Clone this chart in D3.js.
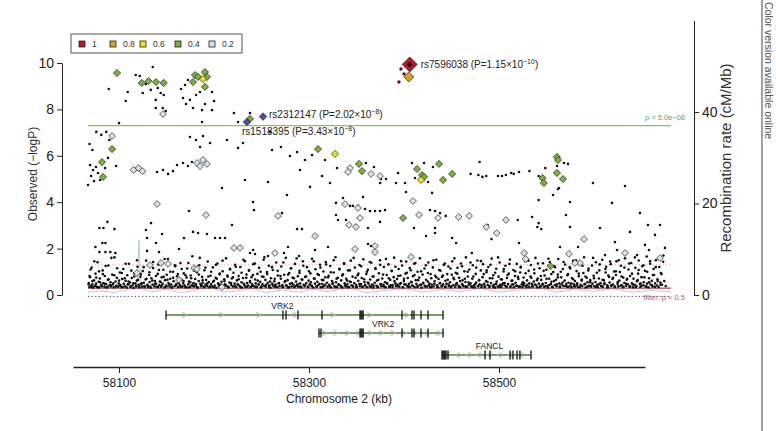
<!DOCTYPE html>
<html lang="en">
<head>
<meta charset="UTF-8">
<title>Regional association plot</title>
<style>
  body { margin: 0; background: #fff; }
  svg { display: block; font-family: "Liberation Sans", Arial, sans-serif; }
</style>
</head>
<body>
<div id="chart"></div>
<script src="https://cdn.jsdelivr.net/npm/d3@7"></script>
<script>
// ---- data: [position (kb), -log10 P] ----
const dotsUpper = [
  [58089.2,8.88],[58109.2,8.75],[58107.1,8.36],[58135.5,9.83],[58121.8,9.44],[58117.6,9.48],[58128.2,9.09],
  [58133.4,8.84],[58140.8,8.92],[58147.1,8.62],[58138.7,8.41],[58169.5,9.05],[58172.6,9.27],[58167.4,8.49],
  [58174.7,8.41],[58170.5,8.23],[58181.1,8.62],[58185.3,8.75],[58177.9,8.06],[58190.5,8.23],[58197.9,8.75],
  [58200,8.36],[58146.1,8.06],[58149.2,7.93],[58187.4,7.97],[58197.9,7.97],[58138.7,8.06],[58100,7.41],
  [58187.4,7.46],[58221,7.84],[58237.9,7.84],[58225.3,7.46],[58125,8.71],[58143.9,8.71],[58165.3,8.88],
  [58076.1,7.03],[58081.4,6.9],[58086.6,7.03],[58089.8,6.68],[58174.7,6.81],[58181.1,6.68],[58188.4,6.85],
  [58195.8,6.55],[58185.3,6.38],[58213.7,6.68],[58230.5,6.55],[58225.3,6.34],
  [58069.5,5.6],[58072.7,5.39],[58075.8,5.52],[58070.6,5.13],[58077.9,5.26],[58073.7,4.91],[58080,4.96],
  [58085.3,5.47],[58088.4,5.91],[58067.4,4.74],[58069,6.51],[58072,6.25],
  [58161.1,5.6],[58167.4,5.69],[58172.6,5.56],[58176.8,5.73],[58140,5.3],[58146.3,5.39],[58151.6,5.22],
  [58156.8,5.34],[58097,5.56],[58208.4,4.61],[58232.6,4.96],
  [58261.1,6.25],[58270.5,6.38],[58280,5.99],[58287.4,6.16],[58295.8,5.82],[58303.2,6.03],[58316.8,5.82],
  [58290.5,5.39],[58313.7,5.13],[58301.1,4.66],[58322.1,4.83],[58276.8,4.31],[58258.9,7.03],[58256.8,4.87]
];
const dotsMiddle = [
  [58329.5,5.47],[58360,5.69],[58368.4,5.52],[58375.8,5.0],[58381.1,5.0],[58374.8,4.83],[58393.7,5.26],
  [58391.6,4.83],[58401.1,4.83],[58408.4,5.69],[58421.1,5.69],[58430.5,5.52],[58411.6,5.04],[58425.3,4.87],
  [58470.1,5.22],[58478.3,5.17],[58486.6,5.13],[58482.5,5.09],[58499,5.13],[58503.1,5.13],[58507.3,5.17],
  [58512.8,5.26],[58515.5,5.22],[58521,5.3],[58532,5.34],[58479.6,5.73],[58548.7,5.47],[58561.1,5.56],
  [58568.4,5.69],[58572.6,5.65],[58541.7,5.13],[58563.2,4.61],[58562.1,4.57],[58556.9,4.31],[58541.7,4.09],
  [58574.7,4.01],[58328.4,3.97],[58335.8,4.18],[58356.9,4.22],[58359,3.71],[58364.2,3.62],[58369.5,3.62],
  [58374.8,3.62],[58380,3.66],[58330.5,3.23],[58339,3.23],[58362.1,2.89],[58374.8,3.15],[58402.1,4.44],
  [58429.5,4.4],[58427.4,3.66],[58432.7,3.62],[58437.9,3.53],[58443.9,3.41],[58410.5,2.89],[58432.7,2.89],
  [58432.7,2.67],[58423.2,2.54],[58450.7,2.46],[58454.9,2.24],[58488,3.02],[58471.4,1.81],[58492.1,2.41],
  [58519.7,3.23],[58534.9,3.36],[58541.7,3.1],[58540.4,2.93],[58544.5,2.84],[58521,2.24],[58574.7,2.93],
  [58570.5,3.45],[58564.2,2.07],[58583.2,2.07],[58362.1,2.2],[58365.3,2.11],[58369.5,2.07],
  [58598.9,4.83],[58618.9,3.97],[58632.6,4.7],[58648.4,3.53],[58656.8,3.02],[58664.2,2.59],[58606.3,2.89],
  [58622.1,2.28],[58637.9,2.72],[58653.7,2.16],[58669.5,3.02],[58611.6,1.72],[58624.2,1.94],[58645.3,1.72],
  [58657.9,1.94],[58674.7,2.03],
  [58079.4,2.89],[58083.6,2.89],[58087.8,3.15],[58095.2,2.84],[58082.5,2.24],[58085.7,2.24],[58075.2,2.07],
  [58079.4,1.85],[58085.7,1.85],[58090.9,1.85],[58096.2,1.81],[58133.7,3.1],[58128.4,2.8],[58145.3,2.63],
  [58129.5,2.46],[58138.9,2.24],[58129.5,1.9],[58142.1,1.85],[58173.7,3.62],[58168.4,2.46],[58177.9,2.72],
  [58183.2,2.67],[58192.6,2.63],[58201.1,2.46],[58206.3,2.46],[58211.6,2.46],[58163.2,1.98],[58218.9,3.02],
  [58241.1,4.01],[58242.1,3.66],[58241.1,1.94],[58237.9,1.81],[58243.2,1.77],[58271.6,3.53],[58287.4,2.84],
  [58292.6,2.84],[58277.9,2.07],[58273.7,1.81],[58256.8,1.68],[58328.4,3.45],[58349.5,3.02],[58343.2,3.84],
  [58346.3,3.84],[58351.6,3.84],[58320,2.07],[58289.5,1.68],[58306.3,1.94]
];
const dotsLow = [
  [58068,0.45],[58069,0.82],[58070,1.1],[58071,0.36],[58072,0.6],[58074,1.45],[58075,0.4],[58076,0.75],[58078,0.33],
  [58079,1.02],[58080,0.55],[58082,0.38],[58083,0.9],[58085,0.48],[58086,1.25],[58088,0.35],[58089,0.68],[58091,0.42],
  [58092,1.6],[58094,0.5],[58095,0.85],[58097,0.37],[58098,1.15],[58100,0.62],[58101,0.4],[58103,0.95],[58104,0.34],
  [58106,0.72],[58107,1.35],[58109,0.45],[58110,0.58],[58112,0.36],[58113,1.05],[58115,0.5],[58116,0.8],[58118,0.4],
  [58119,1.5],[58120,0.65],[58121,0.38],[58123,0.9],[58124,0.5],[58126,1.2],[58127,0.34],[58129,0.7],[58130,0.44],
  [58132,0.98],[58133,0.36],[58135,0.62],[58136,1.42],[58138,0.48],[58139,0.82],[58141,0.35],[58142,1.08],[58144,0.56],
  [58145,0.4],[58147,0.78],[58148,1.55],[58150,0.37],[58151,0.66],[58153,0.45],[58154,1.0],[58156,0.34],[58157,0.74],
  [58159,1.28],[58160,0.42],[58162,0.9],[58163,0.52],[58165,0.36],[58166,1.12],[58168,0.6],[58169,0.4],[58170,0.85],
  [58172,0.33],[58173,1.38],[58175,0.55],[58176,0.72],[58178,0.4],[58179,1.05],[58181,0.47],[58182,0.35],[58184,0.88],
  [58185,1.6],[58187,0.42],[58188,0.64],[58190,0.36],[58191,1.18],[58193,0.5],[58194,0.8],[58196,0.38],[58197,1.0],
  [58199,0.57],[58200,0.34],[58202,1.3],[58203,0.7],[58205,0.45],[58206,0.92],[58208,0.36],[58209,1.48],[58211,0.6],
  [58212,0.41],[58214,0.84],[58215,0.35],[58217,1.1],[58218,0.52],[58220,0.76],[58222,0.38],[58223,1.22],[58225,0.46],
  [58226,0.68],[58228,0.34],[58229,0.96],[58231,1.52],[58232,0.43],[58234,0.74],[58235,0.36],[58237,1.08],[58238,0.55],
  [58240,0.4],[58241,0.86],[58243,1.36],[58244,0.35],[58246,0.62],[58247,0.47],[58249,1.0],[58250,0.37],[58252,0.78],
  [58253,1.62],[58255,0.44],[58256,0.9],[58258,0.34],[58259,0.58],[58261,1.2],[58262,0.42],[58264,0.7],[58265,0.36],
  [58267,1.04],[58268,0.5],[58270,0.82],[58272,0.35],[58273,1.4],[58275,0.6],[58276,0.42],[58278,0.88],[58279,0.34],
  [58281,1.15],[58282,0.52],[58284,0.72],[58285,0.38],[58287,1.58],[58288,0.46],[58290,0.95],[58291,0.36],[58293,0.66],
  [58294,1.26],[58296,0.43],[58297,0.8],[58299,0.35],[58300,1.02],[58302,0.55],[58303,0.4],[58305,1.45],[58306,0.7],
  [58308,0.37],[58309,0.9],[58311,0.48],[58312,1.18],[58314,0.34],[58315,0.64],[58317,0.44],[58318,1.32],[58320,0.76],
  [58322,0.38],[58323,0.98],[58325,0.5],[58326,1.5],[58328,0.35],[58329,0.7],[58331,0.45],[58332,1.1],[58334,0.36],
  [58335,0.84],[58337,1.34],[58338,0.42],[58340,0.62],[58341,0.34],[58343,1.06],[58344,0.56],[58346,0.4],[58347,1.6],
  [58349,0.74],[58350,0.37],[58352,0.92],[58353,0.47],[58355,1.24],[58356,0.35],[58358,0.68],[58359,0.44],[58361,1.0],
  [58362,0.54],[58364,1.42],[58365,0.36],[58367,0.8],[58368,0.41],[58370,1.12],[58372,0.34],[58373,0.66],[58375,1.3],
  [58376,0.46],[58378,0.88],[58379,0.37],[58381,1.55],[58382,0.52],[58384,0.72],[58385,0.35],[58387,1.04],[58388,0.43],
  [58390,0.6],[58391,1.22],[58393,0.38],[58394,0.82],[58396,0.48],[58397,1.46],[58399,0.34],[58400,0.7],[58402,0.45],
  [58403,0.96],[58405,0.36],[58406,1.16],[58408,0.55],[58409,0.4],[58411,0.86],[58412,1.38],[58414,0.35],[58415,0.64],
  [58417,0.44],[58418,1.02],[58420,0.5],[58422,0.37],[58423,1.28],[58425,0.58],[58426,0.42],[58428,0.9],[58429,0.34],
  [58431,1.5],[58432,0.48],[58434,0.76],[58435,0.36],[58437,1.08],[58438,0.52],[58440,0.4],[58441,0.84],[58443,1.36],
  [58444,0.35],[58446,0.66],[58447,0.45],[58449,1.14],[58450,0.38],[58452,0.74],[58453,1.58],[58455,0.46],[58456,0.92],
  [58458,0.34],[58459,0.6],[58461,1.24],[58462,0.43],[58464,0.7],[58465,0.36],[58467,1.0],[58468,0.54],[58470,1.4],
  [58472,0.35],[58473,0.8],[58475,0.47],[58476,1.18],[58478,0.38],[58479,0.64],[58481,1.46],[58482,0.42],[58484,0.9],
  [58485,0.34],[58487,1.06],[58488,0.56],[58490,0.4],[58491,1.3],[58493,0.72],[58494,0.36],[58496,0.96],[58497,0.48],
  [58499,1.62],[58500,0.35],[58502,0.68],[58503,0.44],[58505,1.12],[58506,0.52],[58508,0.38],[58509,0.86],[58511,1.34],
  [58512,0.34],[58514,0.62],[58515,0.46],[58517,1.02],[58518,0.4],[58520,0.78],[58522,0.36],[58523,1.22],[58525,0.55],
  [58526,0.42],[58528,0.94],[58529,0.34],[58531,1.48],[58532,0.5],[58534,0.74],[58535,0.37],[58537,1.1],[58538,0.45],
  [58540,0.64],[58541,1.36],[58543,0.35],[58544,0.82],[58546,0.48],[58547,1.04],[58549,0.38],[58550,0.7],[58552,1.56],
  [58553,0.43],[58555,0.9],[58556,0.34],[58558,0.6],[58559,1.2],[58561,0.46],[58562,0.76],[58564,0.36],[58565,1.0],
  [58567,0.54],[58568,1.42],[58570,0.4],[58572,0.85],[58573,0.35],[58575,1.14],[58576,0.5],[58578,0.68],[58579,0.38],
  [58581,1.5],[58582,0.44],[58584,0.92],[58585,0.34],[58587,0.62],[58588,1.26],[58590,0.47],[58591,0.8],[58593,0.36],
  [58594,1.06],[58596,0.55],[58597,0.4],[58599,1.6],[58600,0.72],[58602,0.35],[58603,0.96],[58605,0.45],[58606,1.32],
  [58608,0.38],[58609,0.66],[58611,0.5],[58612,1.12],[58614,0.34],[58615,0.84],[58617,1.44],[58618,0.42],[58620,0.74],
  [58622,0.36],[58623,1.02],[58625,0.56],[58626,1.5],[58628,0.4],[58629,0.8],[58631,0.35],[58632,1.18],[58634,0.48],
  [58635,0.7],[58637,1.36],[58638,0.38],[58640,0.92],[58641,0.45],[58643,1.62],[58644,0.34],[58646,0.64],[58647,1.08],
  [58649,0.5],[58650,0.4],[58652,1.28],[58653,0.76],[58655,0.36],[58656,1.0],[58658,0.55],[58659,1.46],[58661,0.42],
  [58662,0.86],[58664,0.35],[58665,1.2],[58667,0.6],[58668,1.55],[58670,0.44],[58671,0.9],[58673,1.7]
];
const dotsDense = [
  [58068.2,0.52],[58068.9,0.34],[58069.5,0.77],[58070.8,0.41],[58071.2,1.18],[58071.9,0.46],[58072.6,0.31],[58073.7,0.63],
  [58074.1,0.38],[58075.3,0.92],[58075.8,0.49],[58076.9,0.35],[58077.4,1.41],[58078.6,0.57],[58079.0,0.33],[58079.9,0.71],
  [58081.2,0.44],[58081.7,0.39],[58082.8,1.06],[58083.5,0.51],[58084.7,0.36],[58085.1,0.82],[58086.4,0.47],[58087.0,0.32],
  [58088.3,0.66],[58088.8,1.27],[58090.1,0.42],[58091.0,0.55],[58091.6,0.37],[58092.9,0.88],
  [58093.4,0.45],[58094.6,0.33],[58095.2,1.62],[58096.3,0.58],[58097.1,0.4],[58097.8,0.74],[58099.0,0.36],[58099.7,0.5],
  [58100.9,0.97],[58101.5,0.43],[58102.6,0.34],[58103.3,0.69],[58104.5,1.12],[58105.0,0.48],[58106.2,0.38],[58106.9,0.61],
  [58108.1,0.32],[58108.7,0.85],[58109.9,0.46],[58110.4,1.35],[58111.6,0.54],[58112.3,0.35],[58113.5,0.73],[58114.2,0.41],
  [58115.4,0.3],[58116.0,0.94],[58117.2,0.5],[58117.9,0.37],
  [58118.8,0.62],[58119.6,1.22],[58120.7,0.44],[58121.3,0.33],[58122.5,0.79],[58123.1,0.47],[58124.4,0.36],[58125.0,1.03],
  [58126.1,0.53],[58126.8,0.39],[58128.0,0.67],[58128.6,1.48],[58129.9,0.42],[58130.5,0.34],[58131.7,0.86],[58132.2,0.56],
  [58133.4,0.31],[58134.1,0.72],[58135.3,0.45],[58135.9,1.16],[58137.1,0.38],[58137.8,0.6],[58139.0,0.49],[58139.6,0.35],
  [58140.8,0.91],[58141.4,1.31],[58142.5,0.43],[58143.0,0.58],
  [58144.2,0.36],[58144.9,0.76],[58146.0,0.48],[58146.7,1.09],[58147.9,0.33],[58148.5,0.64],[58149.6,0.41],[58150.3,0.87],
  [58151.5,1.55],[58152.0,0.52],[58153.2,0.37],[58153.9,0.7],[58155.1,0.45],[58155.7,0.32],[58156.9,1.0],[58157.5,0.59],
  [58158.7,0.39],[58159.2,1.24],[58160.4,0.47],[58161.1,0.81],[58162.3,0.34],[58162.9,0.55],[58164.0,0.43],[58164.7,1.38],
  [58165.9,0.66],[58166.5,0.36],[58167.6,0.5],[58168.2,0.93],
  [58169.4,0.4],[58170.1,0.33],[58171.2,0.75],[58171.8,1.14],[58173.0,0.46],[58173.6,0.58],[58174.8,0.35],[58175.5,0.84],
  [58176.6,0.42],[58177.2,1.67],[58178.4,0.51],[58179.0,0.37],[58180.2,0.69],[58180.9,0.44],[58182.0,0.98],[58182.7,0.32],
  [58183.9,0.6],[58184.4,1.28],[58185.6,0.48],[58186.3,0.38],[58187.5,0.78],[58188.1,0.53],[58189.2,0.34],[58189.9,1.07],
  [58191.1,0.45],[58191.7,0.65],[58192.9,0.39],[58193.4,1.44],
  [58194.6,0.56],[58195.3,0.33],[58196.4,0.83],[58197.0,0.47],[58198.2,0.36],[58198.8,1.19],[58200.0,0.61],[58200.7,0.41],
  [58201.8,0.74],[58202.4,0.31],[58203.6,1.36],[58204.3,0.5],[58205.5,0.38],[58206.0,0.89],[58207.2,0.44],[58207.9,0.57],
  [58209.1,1.02],[58209.6,0.35],[58210.8,0.68],[58211.5,0.46],[58212.7,1.58],[58213.2,0.4],[58214.4,0.79],[58215.1,0.33],
  [58216.2,0.54],[58216.8,1.13],[58218.0,0.43],[58218.7,0.71],
  [58219.9,0.37],[58220.5,0.96],[58221.7,0.49],[58222.2,1.3],[58223.4,0.34],[58224.1,0.63],[58225.3,0.45],[58225.9,0.82],
  [58227.0,0.39],[58227.7,1.21],[58228.9,0.55],[58229.4,0.32],[58230.6,0.73],[58231.3,0.48],[58232.5,1.46],[58233.0,0.36],
  [58234.2,0.88],[58234.8,0.52],[58236.0,0.41],[58236.7,1.05],[58237.9,0.6],[58238.5,0.34],[58239.6,0.77],[58240.2,0.46],
  [58241.4,1.33],[58242.1,0.38],[58243.3,0.67],[58243.9,0.5],
  [58245.1,0.35],[58245.7,0.91],[58246.9,0.44],[58247.5,1.17],[58248.6,0.57],[58249.3,0.33],[58250.5,0.8],[58251.0,0.47],
  [58252.2,1.52],[58252.9,0.4],[58254.1,0.65],[58254.6,0.36],[58255.8,0.99],[58256.5,0.53],[58257.7,1.26],[58258.2,0.42],
  [58259.4,0.31],[58260.0,0.72],[58261.2,0.49],[58261.9,1.08],[58263.1,0.37],[58263.6,0.59],[58264.8,0.45],[58265.5,1.4],
  [58266.7,0.34],[58267.2,0.84],[58268.4,0.51],[58269.1,0.39],
  [58270.3,0.7],[58270.8,1.23],[58272.0,0.43],[58272.7,0.35],[58273.9,0.87],[58274.4,0.56],[58275.6,1.6],[58276.3,0.4],
  [58277.5,0.64],[58278.0,0.32],[58279.2,0.95],[58279.9,0.48],[58281.1,1.15],[58281.6,0.37],[58282.8,0.75],[58283.5,0.45],
  [58284.7,0.34],[58285.2,1.34],[58286.4,0.58],[58287.1,0.41],[58288.3,0.81],[58288.8,0.36],[58290.0,1.04],[58290.7,0.5],
  [58291.9,0.33],[58292.4,0.68],[58293.6,1.45],[58294.3,0.44],
  [58295.5,0.38],[58296.0,0.78],[58297.2,0.52],[58297.9,1.2],[58299.1,0.35],[58299.6,0.62],[58300.8,0.46],[58301.5,0.93],
  [58302.7,0.4],[58303.2,1.56],[58304.4,0.33],[58305.1,0.71],[58306.3,0.49],[58306.8,1.11],[58308.0,0.37],[58308.7,0.57],
  [58309.9,0.43],[58310.4,0.86],[58311.6,1.3],[58312.3,0.34],[58313.5,0.66],[58314.0,0.47],[58315.2,1.01],[58315.9,0.39],
  [58317.1,0.76],[58317.6,1.42],[58318.8,0.53],[58319.5,0.36],
  [58320.7,0.83],[58321.2,0.44],[58322.4,1.25],[58323.1,0.33],[58324.3,0.6],[58324.8,0.48],[58326.0,0.97],[58326.7,0.38],
  [58327.9,1.63],[58328.4,0.55],[58329.6,0.35],[58330.3,0.74],[58331.5,0.45],[58332.0,1.13],[58333.2,0.4],[58333.9,0.63],
  [58335.1,0.32],[58335.6,0.89],[58336.8,1.37],[58337.5,0.5],[58338.7,0.37],[58339.2,0.7],[58340.4,0.46],[58341.1,1.06],
  [58342.3,0.34],[58342.8,0.58],[58344.0,1.48],[58344.7,0.42],
  [58345.9,0.79],[58346.4,0.36],[58347.6,0.52],[58348.3,1.18],[58349.5,0.44],[58350.0,0.33],[58351.2,0.85],[58351.9,0.61],
  [58353.1,1.29],[58353.6,0.39],[58354.8,0.47],[58355.5,0.73],[58356.7,0.35],[58357.2,1.54],[58358.4,0.56],[58359.1,0.41],
  [58360.3,0.9],[58360.8,0.34],[58362.0,1.09],[58362.7,0.49],[58363.9,0.37],[58364.4,0.67],[58365.6,1.39],[58366.3,0.45],
  [58367.5,0.32],[58368.0,0.8],[58369.2,0.53],[58369.9,1.16],
  [58371.1,0.4],[58371.6,0.62],[58372.8,0.35],[58373.5,0.94],[58374.7,1.5],[58375.2,0.47],[58376.4,0.38],[58377.1,0.71],
  [58378.3,0.44],[58378.8,1.21],[58380.0,0.55],[58380.7,0.33],[58381.9,0.86],[58382.4,0.49],[58383.6,1.32],[58384.3,0.37],
  [58385.5,0.65],[58386.0,0.42],[58387.2,1.03],[58387.9,0.34],[58389.1,0.77],[58389.6,1.61],[58390.8,0.5],[58391.5,0.39],
  [58392.7,0.69],[58393.2,0.45],[58394.4,1.12],[58395.1,0.36],
  [58396.3,0.84],[58396.8,0.52],[58398.0,1.27],[58398.7,0.33],[58399.9,0.6],[58400.4,0.46],[58401.6,0.92],[58402.3,1.44],
  [58403.5,0.38],[58404.0,0.73],[58405.2,0.48],[58405.9,0.35],[58407.1,1.07],[58407.6,0.57],[58408.8,0.41],[58409.5,0.81],
  [58410.7,1.35],[58411.2,0.34],[58412.4,0.64],[58413.1,0.47],[58414.3,1.0],[58414.8,0.39],[58416.0,0.75],[58416.7,1.58],
  [58417.9,0.44],[58418.4,0.32],[58419.6,0.88],[58420.3,0.53],
  [58421.5,1.14],[58422.0,0.4],[58423.2,0.66],[58423.9,0.36],[58425.1,0.95],[58425.6,1.4],[58426.8,0.49],[58427.5,0.34],
  [58428.7,0.72],[58429.2,0.45],[58430.4,1.19],[58431.1,0.38],[58432.3,0.59],[58432.8,0.83],[58434.0,1.52],[58434.7,0.42],
  [58435.9,0.33],[58436.4,0.69],[58437.6,0.5],[58438.3,1.05],[58439.5,0.37],[58440.0,0.78],[58441.2,0.46],[58441.9,1.3],
  [58443.1,0.35],[58443.6,0.61],[58444.8,0.48],[58445.5,0.9],
  [58446.7,1.23],[58447.2,0.39],[58448.4,0.55],[58449.1,0.33],[58450.3,0.87],[58450.8,1.45],[58452.0,0.43],[58452.7,0.68],
  [58453.9,0.36],[58454.4,0.96],[58455.6,0.51],[58456.3,1.17],[58457.5,0.4],[58458.0,0.74],[58459.2,0.34],[58459.9,1.36],
  [58461.1,0.47],[58461.6,0.63],[58462.8,0.38],[58463.5,1.02],[58464.7,0.56],[58465.2,1.62],[58466.4,0.35],[58467.1,0.8],
  [58468.3,0.44],[58468.8,1.1],[58470.0,0.5],[58470.7,0.37],
  [58471.9,0.7],[58472.4,1.28],[58473.6,0.42],[58474.3,0.33],[58475.5,0.91],[58476.0,0.54],[58477.2,1.49],[58477.9,0.39],
  [58479.1,0.64],[58479.6,0.46],[58480.8,1.06],[58481.5,0.35],[58482.7,0.77],[58483.2,1.33],[58484.4,0.48],[58485.1,0.37],
  [58486.3,0.6],[58486.8,0.98],[58488.0,0.43],[58488.7,1.21],[58489.9,0.34],[58490.4,0.72],[58491.6,0.52],[58492.3,1.57],
  [58493.5,0.4],[58494.0,0.85],[58495.2,0.45],[58495.9,0.32],
  [58497.1,1.13],[58497.6,0.58],[58498.8,0.38],[58499.5,0.79],[58500.7,1.4],[58501.2,0.44],[58502.4,0.35],[58503.1,0.67],
  [58504.3,0.5],[58504.8,1.01],[58506.0,0.41],[58506.7,1.26],[58507.9,0.34],[58508.4,0.73],[58509.6,0.47],[58510.3,0.92],
  [58511.5,1.53],[58512.0,0.37],[58513.2,0.61],[58513.9,0.45],[58515.1,1.08],[58515.6,0.33],[58516.8,0.82],[58517.5,0.53],
  [58518.7,1.34],[58519.2,0.4],[58520.4,0.69],[58521.1,0.36],
  [58522.3,0.97],[58522.8,1.18],[58524.0,0.46],[58524.7,0.34],[58525.9,0.75],[58526.4,0.51],[58527.6,1.46],[58528.3,0.39],
  [58529.5,0.63],[58530.0,0.44],[58531.2,1.04],[58531.9,0.35],[58533.1,0.8],[58533.6,1.29],[58534.8,0.48],[58535.5,0.37],
  [58536.7,0.58],[58537.2,0.94],[58538.4,1.6],[58539.1,0.42],[58540.3,0.33],[58540.8,0.71],[58542.0,0.49],[58542.7,1.15],
  [58543.9,0.38],[58544.4,0.65],[58545.6,0.45],[58546.3,1.37],
  [58547.5,0.36],[58548.0,0.84],[58549.2,0.52],[58549.9,1.09],[58551.1,0.4],[58551.6,0.32],[58552.8,0.7],[58553.5,1.42],
  [58554.7,0.47],[58555.2,0.57],[58556.4,0.35],[58557.1,0.99],[58558.3,1.24],[58558.8,0.43],[58560.0,0.66],[58560.7,0.38],
  [58561.9,0.88],[58562.4,1.55],[58563.6,0.5],[58564.3,0.34],[58565.5,0.76],[58566.0,0.45],[58567.2,1.12],[58567.9,0.39],
  [58569.1,0.62],[58569.6,1.31],[58570.8,0.48],[58571.5,0.36],
  [58572.7,0.9],[58573.2,0.53],[58574.4,1.2],[58575.1,0.41],[58576.3,0.33],[58576.8,0.73],[58578.0,1.47],[58578.7,0.46],
  [58579.9,0.6],[58580.4,0.37],[58581.6,1.03],[58582.3,0.5],[58583.5,0.35],[58584.0,0.81],[58585.2,1.36],[58585.9,0.44],
  [58587.1,0.67],[58587.6,0.39],[58588.8,0.95],[58589.5,1.63],[58590.7,0.47],[58591.2,0.32],[58592.4,0.74],[58593.1,0.55],
  [58594.3,1.14],[58594.8,0.4],[58596.0,0.64],[58596.7,0.36],
  [58597.9,1.27],[58598.4,0.49],[58599.6,0.83],[58600.3,0.38],[58601.5,0.56],[58602.0,1.41],[58603.2,0.44],[58603.9,0.34],
  [58605.1,0.71],[58605.6,1.06],[58606.8,0.51],[58607.5,0.4],[58608.7,1.52],[58609.2,0.36],[58610.4,0.63],[58611.1,0.47],
  [58612.3,0.97],[58612.8,1.22],[58614.0,0.42],[58614.7,0.33],[58615.9,0.78],[58616.4,0.54],[58617.6,1.33],[58618.3,0.39],
  [58619.5,0.69],[58620.0,0.45],[58621.2,1.01],[58621.9,0.35],
  [58623.1,0.86],[58623.6,1.45],[58624.8,0.48],[58625.5,0.37],[58626.7,0.62],[58627.2,0.99],[58628.4,1.26],[58629.1,0.43],
  [58630.3,0.34],[58630.8,0.75],[58632.0,0.52],[58632.7,1.58],[58633.9,0.4],[58634.4,0.66],[58635.6,0.46],[58636.3,1.1],
  [58637.5,0.36],[58638.0,0.82],[58639.2,1.38],[58639.9,0.5],[58641.1,0.33],[58641.6,0.7],[58642.8,0.44],[58643.5,1.17],
  [58644.7,0.39],[58645.2,0.59],[58646.4,0.92],[58647.1,1.49],
  [58648.3,0.47],[58648.8,0.35],[58650.0,0.77],[58650.7,1.24],[58651.9,0.42],[58652.4,0.55],[58653.6,1.04],[58654.3,0.38],
  [58655.5,1.66],[58656.0,0.49],[58657.2,0.33],[58657.9,0.72],[58659.1,1.35],[58659.6,0.45],[58660.8,0.61],[58661.5,0.37],
  [58662.7,1.12],[58663.2,0.86],[58664.4,0.5],[58665.1,1.5],[58666.3,0.41],[58666.8,0.68],[58668.0,0.34],[58668.7,1.21],
  [58669.9,0.54],[58670.4,0.95],[58671.6,0.44],[58672.8,1.43],[58674.0,0.6],[58675.5,0.39]
];
// small dark dots in strong LD with the lead SNP
const dotsLead = [[58396.8,9.74],[58400,9.53],[58394.7,9.18]];

// diamonds by r2 class
const ld02 = [
  [58146.3,7.8],[58092.7,6.85],[58182.1,5.69],[58188.4,5.82],[58192.6,5.65],[58185.3,5.56],[58115.3,5.39],
  [58120.5,5.47],[58124.7,5.34],[58140,3.92],[58191.6,3.45],[58267.4,3.41],[58306.3,2.54],[58348.4,1.98],
  [58221,2.03],[58227.4,2.03],[58264.2,1.81],[58132.6,1.29],[58144.2,1.38],[58151.6,1.34],[58163.2,0.65],
  [58179,1.16],[58182.1,1.12],[58118.9,0.95],[58208.4,0.34],
  [58343.2,5.47],[58341.1,5.3],[58365.3,5.22],[58374.8,5.13],[58409.5,4.05],[58337.9,3.92],[58351.6,3.75],
  [58353.7,3.32],[58342.1,3.02],[58349.5,2.93],[58415.8,3.45],[58435.8,3.32],[58457.6,3.36],[58468.6,3.41],
  [58507.3,3.23],[58486.6,2.93],[58497.6,2.67],[58369.5,2.11],[58369.5,1.85],[58407.4,1.64],[58526.5,1.81],
  [58528,1.55],[58573.7,1.77],[58589.5,2.41],[58585.3,1.38],[58580,1.38],
  [58632.6,1.81],[58669.5,1.59]
];
const ld04 = [
  [58097.9,9.57],[58124,9.14],[58131,9.22],[58139,9.18],[58147,9.14],[58177.9,9.18],[58180,9.48],
  [58183.2,9.4],[58190.5,9.61],[58192.6,9.4],[58190.5,8.97],[58237.9,7.59],[58092.7,6.29],[58082.1,5.73],
  [58083.2,5.09],[58352.6,5.65],[58355.8,5.34],[58413.7,5.43],[58419,5.17],[58421.1,5.09],[58436.9,5.65],
  [58450.7,5.22],[58441.1,4.96],[58561,5.95],[58562.1,5.82],[58561,5.26],[58545.9,5.04],[58547.2,4.83],
  [58567.4,5.0],[58399,3.32],[58554.2,1.25],[58309.5,6.29]
];
const ld06 = [[58188.4,9.31],[58417.9,4.96],[58327.4,6.08]];
const ld08 = [[58405,9.4]];
const ld1 = [[58406,9.94]];

// labelled SNPs: name, position, -logP, P mantissa, exponent
const hitNames = ["rs7596038", "rs2312147", "rs1518395"];
const hitPos = [58406, 58251.6, 58234.7];
const hitLogP = [9.94, 7.69, 7.46];
const hitMant = ["1.15", "2.02", "3.43"];
const hitExp = ["\u221210", "\u22128", "\u22128"];

// recombination rate (cM/Mb)
const recomb = [
  [58067,0.6],[58080,0.9],[58095,0.5],[58110,1.2],[58119,1.6],[58121,12],[58123,1.4],[58135,0.7],[58150,1.3],
  [58165,0.5],[58180,1.0],[58195,1.8],[58210,0.6],[58225,0.9],[58240,1.5],[58255,0.5],[58270,1.1],[58290,0.6],
  [58305,1.3],[58320,0.7],[58340,1.6],[58360,0.5],[58380,1.0],[58400,1.4],[58420,0.6],[58440,1.2],[58460,0.7],
  [58480,1.5],[58500,0.6],[58520,1.1],[58540,1.7],[58560,0.6],[58580,1.2],[58600,0.8],[58620,1.4],[58640,0.6],
  [58660,1.0],[58681,0.7]
];

// genes: name, start, end, strand, exons (kb)
const geneNames = ["VRK2", "VRK2", "FANCL"];
const geneStart = [58149.5, 58310.5, 58440];
const geneEnd = [58441.1, 58441.1, 58533.7];
const geneStrand = [1, 1, -1];
const geneExons = [
  [58149.5,58272.6,58275.8,58288.4,58313.7,58353.7,58354.8,58355.8,58357,58397.9,58408.4,58410.5,58417.9,58425.3,58441.1],
  [58310.5,58312.6,58353.7,58354.8,58355.8,58357,58397.9,58408.4,58410.5,58417.9,58425.3,58441.1],
  [58440,58441,58442.1,58443.1,58444.2,58446.3,58485.3,58490.5,58511.6,58514.7,58519,58522,58533.7]
];

const legendLabels = ["1", "0.8", "0.6", "0.4", "0.2"];
const legendColors = ["#B5172B", "#D8A21F", "#EEE322", "#7DAF3B", "#D9E2EA"];

const yTicks = [0, 2, 4, 6, 8, 10];
const rTicks = [0, 20, 40];
const xTicks = [58100, 58300, 58500];

// ---- layout ----
const W = 776, H = 431;
const svg = d3.select("#chart").append("svg").attr("width", W).attr("height", H);

const x = d3.scaleLinear().domain([58100, 58500]).range([119, 499]);
const y = d3.scaleLinear().domain([0, 10]).range([295, 63]);
const yR = d3.scaleLinear().domain([0, 60]).range([295, 20.5]);
const plotL = 88, plotR = 671;

// right edge note
svg.append("line").attr("x1", 762).attr("x2", 762).attr("y1", 0).attr("y2", H)
  .attr("stroke", "#8c8c8c").attr("stroke-width", 1.6);
svg.append("text").attr("transform", "translate(765,2) rotate(90)")
  .attr("font-size", 10.5).attr("fill", "#555").text("Color version available online");

// reference lines
svg.append("line").attr("x1", plotL).attr("x2", plotR).attr("y1", y(7.3)).attr("y2", y(7.3))
  .attr("stroke", "#8DC447").attr("stroke-width", 1.2);
svg.append("text").attr("x", 685).attr("y", y(7.3) - 6).attr("text-anchor", "end")
  .attr("font-size", 7.5).attr("fill", "#6FA25A").text("p = 5.0e\u221208");
svg.append("line").attr("x1", plotL).attr("x2", plotR).attr("y1", y(1.3)).attr("y2", y(1.3))
  .attr("stroke", "#E3A3A8").attr("stroke-width", 1).attr("stroke-dasharray", "1.2,2.2");
svg.append("line").attr("x1", plotL).attr("x2", plotR).attr("y1", y(-0.06)).attr("y2", y(-0.06))
  .attr("stroke", "#444").attr("stroke-width", 1).attr("stroke-dasharray", "1.2,2.4");

// recombination rate
svg.append("path").datum(recomb)
  .attr("d", d3.line().x(d => x(d[0])).y(d => yR(d[1])))
  .attr("fill", "none").attr("stroke", "#B3D1E3").attr("stroke-width", 1);

svg.append("line").attr("x1", plotL).attr("x2", plotR).attr("y1", y(0.3)).attr("y2", y(0.3))
  .attr("stroke", "#A8474F").attr("stroke-width", 1.3);
svg.append("text").attr("x", 685).attr("y", y(0.3) + 12).attr("text-anchor", "end")
  .attr("font-size", 7.5).attr("fill", "#B55A60").text("filter: p < 0.5");

// points
const dots = svg.append("g");
dots.selectAll("circle.s").data(dotsLow.concat(dotsDense, dotsMiddle, dotsUpper)).join("circle")
  .attr("cx", d => x(d[0])).attr("cy", d => y(d[1])).attr("r", 1.3).attr("fill", "#111");
dots.selectAll("circle.l").data(dotsLead).join("circle")
  .attr("cx", d => x(d[0])).attr("cy", d => y(d[1])).attr("r", 1.7).attr("fill", "#5e1420");

const diamond = s => `M0,${-s}L${s},0L0,${s}L${-s},0Z`;
function drawDiamonds(data, color, s) {
  svg.append("g").selectAll("path").data(data).join("path")
    .attr("transform", d => `translate(${x(d[0])},${y(d[1])})`)
    .attr("d", diamond(s)).attr("fill", color)
    .attr("stroke", "#222").attr("stroke-width", 0.7);
}
drawDiamonds(ld02, legendColors[4], 3.4);
drawDiamonds(ld04, legendColors[3], 3.6);
drawDiamonds(ld06, legendColors[2], 3.6);
drawDiamonds(ld08, legendColors[1], 5);

// secondary hits
svg.append("g").selectAll("path").data(hitPos.slice(1)).join("path")
  .attr("transform", (d, i) => `translate(${x(d)},${y(hitLogP[i + 1])})`)
  .attr("d", diamond(3.8)).attr("fill", "#4B4F97").attr("stroke", "#222").attr("stroke-width", 0.6);

// lead SNP
drawDiamonds(ld1, legendColors[0], 7.5);
svg.append("path").attr("transform", `translate(${x(ld1[0][0])},${y(ld1[0][1])})`)
  .attr("d", diamond(3)).attr("fill", "#2a0a0e");

// hit labels
const labelPos = [[x(hitPos[0]) + 11, y(hitLogP[0]) + 4], [x(hitPos[1]) + 6, y(hitLogP[1]) + 1], [x(hitPos[2]) - 5, y(hitLogP[2]) + 13]];
hitNames.forEach((name, i) => {
  const t = svg.append("text").attr("x", labelPos[i][0]).attr("y", labelPos[i][1])
    .attr("font-size", 10).attr("fill", "#222");
  t.append("tspan").text(`${name} (P=${hitMant[i]}\u00d710`);
  t.append("tspan").attr("dy", -4).attr("font-size", 7).text(hitExp[i]);
  t.append("tspan").attr("dy", 4).text(")");
});

// legend
const lg = svg.append("g").attr("transform", "translate(71,34)");
lg.append("rect").attr("width", 171).attr("height", 19).attr("fill", "#fff")
  .attr("stroke", "#555").attr("stroke-width", 1);
const lgX = [8, 39, 69, 104, 138];
legendLabels.forEach((lab, i) => {
  lg.append("rect").attr("x", lgX[i]).attr("y", 7).attr("width", 6).attr("height", 6)
    .attr("fill", legendColors[i]).attr("stroke", "#222").attr("stroke-width", 0.8);
  lg.append("text").attr("x", lgX[i] + 13).attr("y", 13).attr("font-size", 8.5).attr("fill", "#333").text(lab);
});

// axes
const yAxis = svg.append("g").attr("transform", "translate(62,0)")
  .call(d3.axisLeft(y).tickValues(yTicks).tickSize(5).tickSizeOuter(0));
yAxis.selectAll("text").attr("font-size", 14).attr("fill", "#222")
  .attr("font-family", "Liberation Sans, Arial, sans-serif");
yAxis.selectAll("path, line").attr("stroke", "#222");
svg.append("text").attr("transform", "translate(37,174) rotate(-90)").attr("text-anchor", "middle")
  .attr("font-size", 12).attr("fill", "#333").text("Observed (\u2212logP)");

const rAxis = svg.append("g").attr("transform", "translate(694,0)")
  .call(d3.axisRight(yR).tickValues(rTicks).tickSize(5).tickSizeOuter(0));
rAxis.selectAll("text").attr("font-size", 14).attr("fill", "#222")
  .attr("font-family", "Liberation Sans, Arial, sans-serif");
rAxis.selectAll("path, line").attr("stroke", "#222");
svg.append("text").attr("transform", "translate(731,158) rotate(-90)").attr("text-anchor", "middle")
  .attr("font-size", 15).attr("fill", "#333").text("Recombination rate (cM/Mb)");

const xa = x.copy().domain([x.invert(73), x.invert(645)]).range([73, 645]);
const xAxis = svg.append("g").attr("transform", "translate(0,367)")
  .call(d3.axisBottom(xa).tickValues(xTicks).tickSize(6).tickSizeOuter(0).tickFormat(d3.format("d")));
xAxis.selectAll("text").attr("font-size", 12).attr("fill", "#222").attr("dy", "0.9em")
  .attr("font-family", "Liberation Sans, Arial, sans-serif");
xAxis.select("path").attr("stroke", "#222").attr("stroke-width", 1.6);
xAxis.selectAll("line").attr("stroke", "#222");
svg.append("text").attr("x", 339).attr("y", 403).attr("text-anchor", "middle")
  .attr("font-size", 12).attr("fill", "#222").text("Chromosome 2 (kb)");

// gene track
const geneY = [315, 333, 355];
const geneLabelX = [58272, 58378, 58490];
const chevronStep = [39, 12, 11];
geneNames.forEach((g, i) => {
  const gy = geneY[i];
  const gg = svg.append("g");
  gg.append("line").attr("x1", x(geneStart[i])).attr("x2", x(geneEnd[i])).attr("y1", gy).attr("y2", gy)
    .attr("stroke", "#4C7C3A").attr("stroke-width", 1.5);
  const chev = d3.range(geneStart[i] + chevronStep[i] / 2, geneEnd[i] - 2, chevronStep[i]);
  gg.selectAll("path").data(chev).join("path")
    .attr("d", d => {
      const cx = x(d), s = 2.6 * geneStrand[i];
      return `M${cx - s},${gy - 2.6}L${cx + s},${gy}L${cx - s},${gy + 2.6}`;
    })
    .attr("fill", "none").attr("stroke", "#A7B3A4").attr("stroke-width", 0.9);
  gg.selectAll("line.ex").data(geneExons[i]).join("line").attr("class", "ex")
    .attr("x1", d => x(d)).attr("x2", d => x(d)).attr("y1", gy - 4.5).attr("y2", gy + 4.5)
    .attr("stroke", "#111").attr("stroke-width", 1.3);
  gg.append("text").attr("x", x(geneLabelX[i])).attr("y", gy - 6).attr("text-anchor", "middle")
    .attr("font-size", 8.5).attr("fill", "#222").text(g);
});
</script>
</body>
</html>
